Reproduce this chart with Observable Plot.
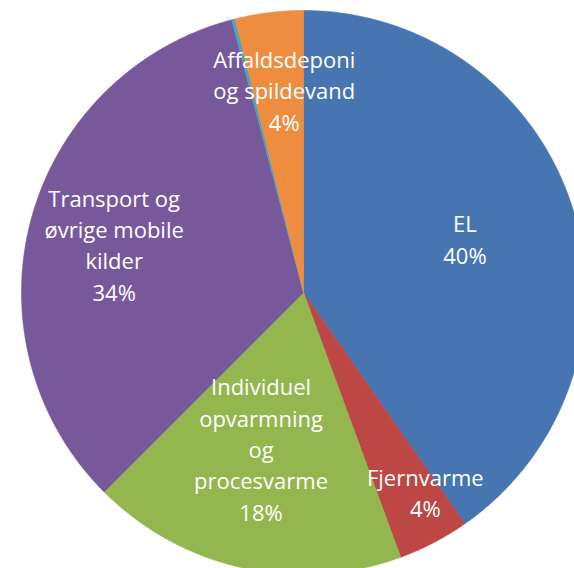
<!DOCTYPE html>
<html>
<head>
<meta charset="utf-8">
<script src="https://cdn.jsdelivr.net/npm/d3@7"></script>
<script src="https://cdn.jsdelivr.net/npm/@observablehq/plot@0.6"></script>
<style>
  html, body { margin: 0; padding: 0; background: #fff; }
  #chart svg { display: block; }
</style>
</head>
<body>
<div id="chart"></div>
<script>
// Data (clockwise from 12 o'clock)
const categories = ["EL", "Fjernvarme", "Individuel opvarmning og procesvarme", "Transport og øvrige mobile kilder", "Øvrige", "Affaldsdeponi og spildevand"];
const values = [40.3, 4.1, 18.1, 33.4, 0.2, 3.9];
const labelTexts = ["EL\n40%", "Fjernvarme\n4%", "Individuel\nopvarmning\nog\nprocesvarme\n18%", "Transport og\nøvrige mobile\nkilder\n34%", "", "Affaldsdeponi\nog spildevand\n4%"];

// Styling / layout
const colors = ["#4675B1", "#BC4744", "#93B64F", "#76589B", "#47A6C0", "#EE8D3F"];
const labelRadius = [0.60, 0.84, 0.585, 0.69, 0, 0.71];
const labelAngleShift = [0, -3.4, 2.5, -1.8, 0, 1.5]; // degrees

const pie = d3.pie().sort(null).value(d => d.value);
const arcs = pie(categories.map((c, i) => ({category: c, value: values[i]})));

// Slice outlines in unit-circle coordinates
const slicePts = [];
arcs.forEach(a => {
  const c = a.data.category;
  slicePts.push({category: c, x: 0, y: 0});
  const n = Math.max(2, Math.ceil((a.endAngle - a.startAngle) / (Math.PI / 360)));
  for (let k = 0; k <= n; k++) {
    const t = a.startAngle + (a.endAngle - a.startAngle) * k / n;
    slicePts.push({category: c, x: Math.sin(t), y: Math.cos(t)});
  }
  slicePts.push({category: c, x: 0, y: 0});
});

const labels = arcs.map((a, i) => {
  const mid = (a.startAngle + a.endAngle) / 2 + labelAngleShift[i] * Math.PI / 180;
  return {text: labelTexts[i], x: labelRadius[i] * Math.sin(mid), y: labelRadius[i] * Math.cos(mid)};
}).filter(d => d.text);

const cx = 303, cy = 292, R = 282;
const chart = Plot.plot({
  width: 574,
  height: 568,
  margin: 0,
  x: {domain: [-1, 1], range: [cx - R, cx + R], axis: null},
  y: {domain: [-1, 1], range: [cy + R, cy - R], axis: null},
  color: {domain: categories, range: colors, legend: false},
  style: {background: "white", overflow: "hidden"},
  marks: [
    Plot.line(slicePts, {x: "x", y: "y", z: "category", fill: "category", stroke: "category", strokeWidth: 0.6, curve: "linear"}),
    Plot.text(labels, {x: "x", y: "y", text: "text", fill: "white", fontSize: 22, fontFamily: "'Open Sans', sans-serif", lineHeight: 1.43, lineAnchor: "middle", textAnchor: "middle", dy: -4})
  ]
});
document.getElementById("chart").appendChild(chart);
</script>
</body>
</html>
